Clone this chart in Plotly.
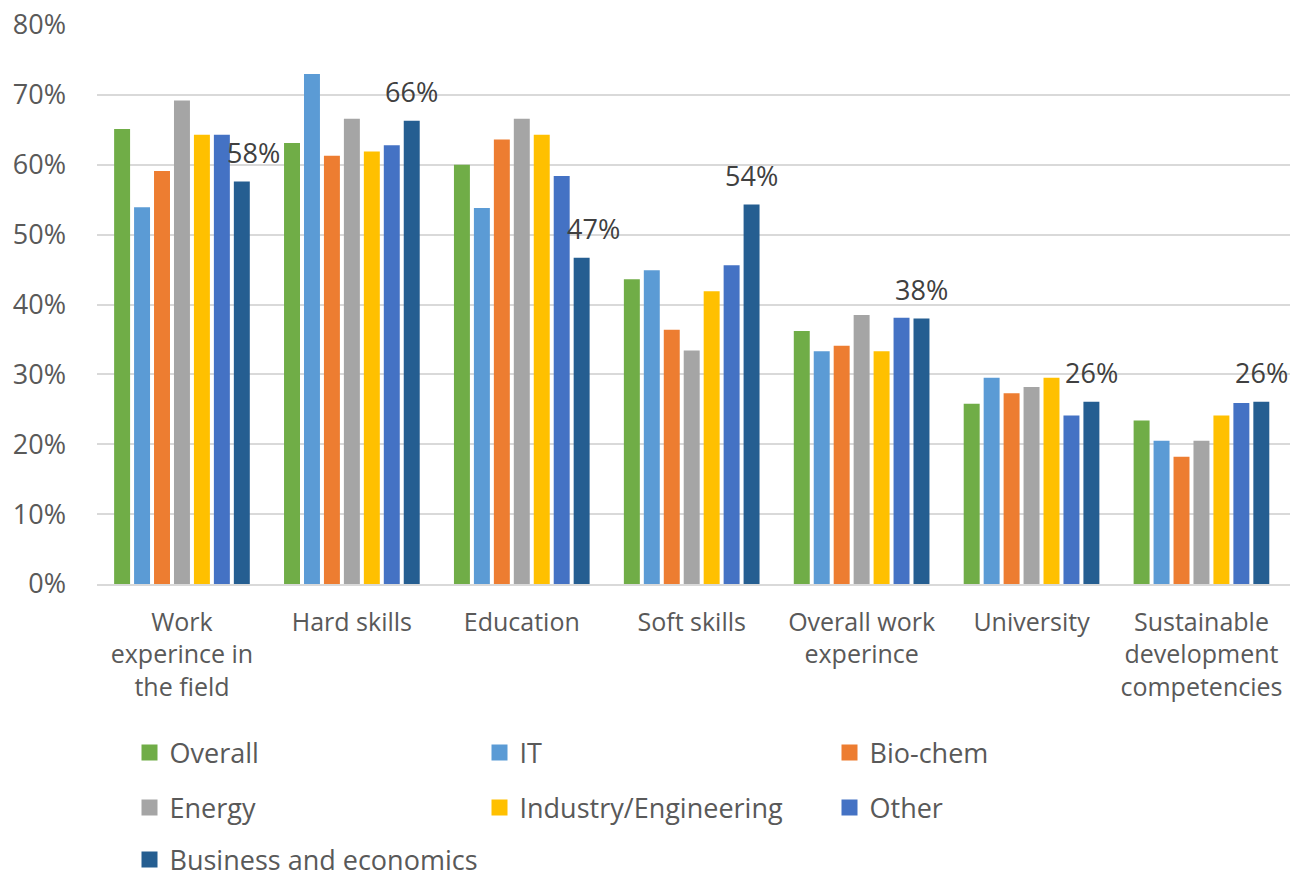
import plotly.graph_objects as go

# Categories (x axis) and the share per sector, in percent
categories = [
    "Work<br>experince in<br>the field",
    "Hard skills",
    "Education",
    "Soft skills",
    "Overall work<br>experince",
    "University",
    "Sustainable<br>development<br>competencies",
]

overall = [65.1, 63.1, 60.0, 43.6, 36.2, 25.8, 23.4]
it = [53.9, 73.0, 53.8, 44.9, 33.3, 29.5, 20.5]
bio_chem = [59.1, 61.3, 63.6, 36.4, 34.1, 27.3, 18.2]
energy = [69.2, 66.6, 66.6, 33.4, 38.5, 28.2, 20.5]
industry = [64.3, 61.9, 64.3, 41.9, 33.3, 29.5, 24.1]
other = [64.3, 62.8, 58.4, 45.6, 38.1, 24.1, 25.9]
business = [57.6, 66.3, 46.7, 54.3, 38.0, 26.1, 26.1]

y_ticks = [0, 10, 20, 30, 40, 50, 60, 70, 80]

series = [
    ("Overall", overall, "#70AD47", "legend"),
    ("IT", it, "#5B9BD5", "legend"),
    ("Bio-chem", bio_chem, "#ED7D31", "legend"),
    ("Energy", energy, "#A5A5A5", "legend2"),
    ("Industry/Engineering", industry, "#FFC000", "legend2"),
    ("Other", other, "#4472C4", "legend2"),
    ("Business and economics", business, "#255E91", "legend3"),
]

# Horizontal nudge (px) of the value labels on the last series
label_nudge = [12, 0, 12, 0, 0, 0, 0]

FONT = "Open Sans"
TEXT_COLOR = "#595959"

W, H = 1295, 877
MARGIN = dict(l=97, r=5, t=21, b=293)
BARGAP, BARGROUPGAP = 0.178, 0.2

fig = go.Figure()

for name, values, color, _ in series:
    fig.add_trace(go.Bar(
        x=categories,
        y=values,
        name=name,
        marker=dict(color=color, line=dict(width=0)),
        showlegend=False,
    ))

# Value labels above the "Business and economics" bars
plot_w = W - MARGIN["l"] - MARGIN["r"]
slot_px = plot_w / len(categories) * (1 - BARGAP) / len(series)
series_idx = len(series) - 1
bar_offset = (series_idx - (len(series) - 1) / 2) * slot_px
for cat, v, nudge in zip(categories, business, label_nudge):
    fig.add_annotation(
        x=cat, y=v, xref="x", yref="y",
        text=f"{v:.0f}%",
        showarrow=False,
        xanchor="center", yanchor="middle",
        xshift=bar_offset + nudge, yshift=29,
        font=dict(family=FONT, size=27, color="#404040"),
    )

# Legend entries with square swatches, one legend per row
for name, _, color, legend_id in series:
    fig.add_trace(go.Scatter(
        x=[None], y=[None],
        mode="markers",
        name=name,
        marker=dict(symbol="square", size=18, color=color),
        legend=legend_id,
        showlegend=True,
    ))

legend_common = dict(
    orientation="h",
    xref="container", yref="container",
    x=0.1, xanchor="left", yanchor="middle",
    entrywidth=305, entrywidthmode="pixels",
    font=dict(family=FONT, size=27, color=TEXT_COLOR),
    bgcolor="rgba(0,0,0,0)",
    itemclick=False, itemdoubleclick=False,
)

fig.update_layout(
    width=W,
    height=H,
    margin=MARGIN,
    paper_bgcolor="white",
    plot_bgcolor="white",
    barmode="group",
    bargap=BARGAP,
    bargroupgap=BARGROUPGAP,
    font=dict(family=FONT, color=TEXT_COLOR),
    legend=dict(legend_common, y=1 - 753 / H),
    legend2=dict(legend_common, y=1 - 808 / H),
    legend3=dict(legend_common, y=1 - 860 / H),
    xaxis=dict(
        showline=True,
        linecolor="#D9D9D9",
        linewidth=1.5,
        ticks="",
        tickfont=dict(family=FONT, size=25, color=TEXT_COLOR),
        ticklabelstandoff=15,
        showgrid=False,
    ),
    yaxis=dict(
        range=[0, 80],
        tickvals=y_ticks,
        ticktext=[f"{t}%" for t in y_ticks],
        showgrid=True,
        gridcolor="#D9D9D9",
        gridwidth=1.5,
        zeroline=False,
        showline=False,
        ticks="",
        tickfont=dict(family=FONT, size=27, color=TEXT_COLOR),
        ticklabelstandoff=30,
    ),
)

fig.write_html("out.html")
